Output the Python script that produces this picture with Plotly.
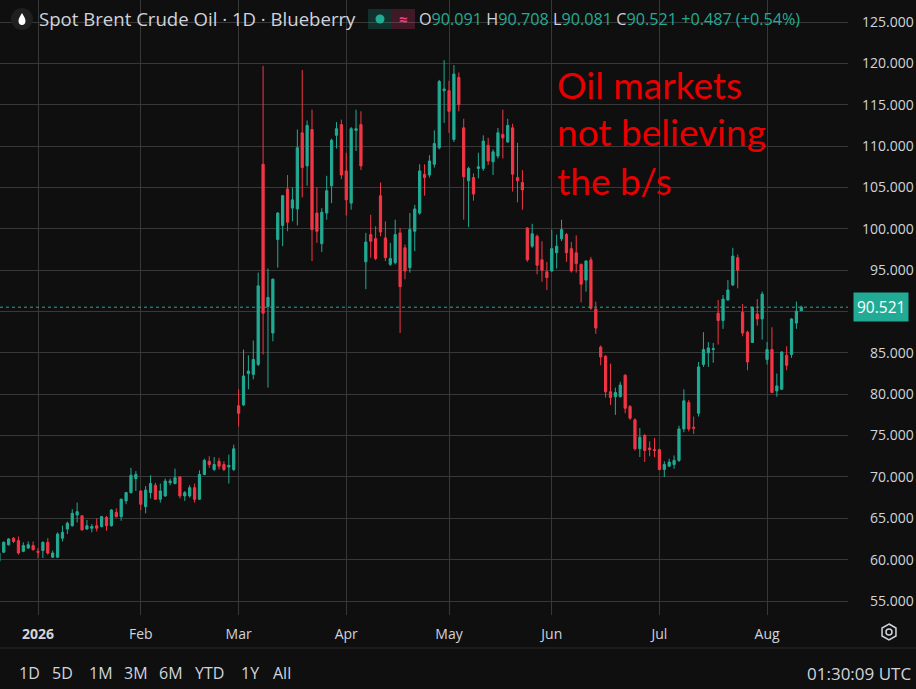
import pandas as pd
import plotly.graph_objects as go

# ---- data -------------------------------------------------------------
# trading days (weekdays, a few holidays dropped)
days = pd.bdate_range("2025-12-19", "2026-08-12")
holidays = pd.to_datetime(["2025-12-25", "2026-01-01", "2026-04-03", "2026-07-03"])
days = days[~days.isin(holidays)]
dates = [d.strftime("%Y-%m-%d") for d in days]

opens = [
    59.8, 60.9, 61.8, 62.6, 62.3, 61.0, 61.4, 61.7, 61.0, 61.1,
    62.1, 60.3, 60.3, 62.6, 63.7, 64.1, 65.4, 65.3, 63.7, 63.8,
    64.1, 64.0, 65.1, 64.1, 65.7, 65.2, 67.1, 68.1, 69.8, 68.3,
    66.4, 68.1, 69.0, 67.3, 67.7, 69.3, 69.2, 70.0, 67.7, 67.7,
    68.7, 67.3, 70.3, 71.9, 70.9, 71.9, 71.5, 71.2, 70.9, 78.6,
    78.7, 82.5, 82.4, 83.6, 107.8, 90.6, 87.4, 98.7, 100.4, 104.8,
    102.5, 102.4, 111.6, 107.6, 112.0, 101.9, 98.2, 101.9, 105.2, 111.3,
    112.6, 107.0, 103.1, 111.9, 112.6, 96.0, 99.3, 98.8, 104.0, 98.9,
    95.7, 95.9, 99.5, 97.7, 95.3, 99.7, 101.9, 106.6, 106.5, 107.8,
    109.8, 116.7, 116.7, 110.8, 118.3, 112.2, 105.8, 106.2, 107.3, 107.3,
    110.1, 108.1, 108.8, 111.4, 110.5, 112.2, 106.2, 105.6, 100.1, 97.9,
    99.1, 96.25, 94.8, 94.9, 97.1, 98.8, 99.3, 97.6, 97.1, 95.7,
    93.8, 96.25, 90.3, 85.7, 84.6, 80.3, 79.7, 79.7, 82.3, 78.5,
    76.9, 73.4, 75.0, 73.5, 73.3, 73.3, 70.9, 71.3, 71.5, 72.0,
    75.8, 79.0, 76.0, 77.7, 83.6, 85.0, 85.4, 89.8, 88.9, 91.4,
    93.2, 96.5, 89.9, 87.5, 86.25, 89.7, 89.1, 84.2, 85.4, 80.4,
    80.6, 84.7, 84.8, 88.6, 90.091,
]
highs = [
    60.9, 62.2, 62.6, 62.7, 62.8, 62.1, 62.2, 62.2, 61.4, 62.2,
    62.6, 61.1, 63.3, 64.1, 64.6, 66.1, 66.9, 65.4, 64.8, 64.3,
    65.0, 65.3, 65.3, 66.1, 66.2, 67.4, 68.2, 71.1, 70.7, 68.4,
    68.9, 70.2, 69.3, 69.2, 69.8, 69.8, 71.0, 70.1, 68.3, 69.0,
    69.2, 70.8, 72.2, 72.5, 72.4, 72.3, 71.9, 72.7, 73.9, 80.6,
    85.4, 84.7, 86.5, 94.7, 119.7, 95.2, 94.0, 102.0, 104.1, 106.5,
    105.0, 112.0, 119.2, 113.1, 114.4, 105.0, 102.5, 106.4, 110.9, 112.9,
    113.2, 109.2, 112.3, 114.4, 114.2, 99.5, 101.7, 100.3, 105.6, 100.9,
    98.3, 101.1, 100.1, 98.1, 101.9, 102.9, 107.8, 107.8, 108.9, 111.9,
    118.0, 120.4, 117.9, 119.8, 118.9, 113.3, 107.5, 106.7, 109.2, 111.3,
    111.0, 109.6, 112.2, 114.4, 113.3, 112.7, 110.4, 107.1, 100.2, 100.6,
    99.3, 98.5, 96.0, 99.9, 99.3, 101.1, 99.5, 98.4, 99.2, 95.8,
    96.2, 96.6, 91.2, 85.9, 84.7, 83.7, 80.8, 81.5, 82.4, 78.7,
    77.1, 75.9, 75.2, 74.3, 74.7, 73.4, 71.9, 72.2, 72.6, 76.2,
    80.6, 79.3, 77.3, 83.9, 87.5, 86.3, 86.2, 91.4, 92.0, 93.8,
    97.7, 96.9, 90.9, 87.7, 90.6, 91.5, 92.4, 86.3, 88.1, 82.5,
    85.2, 85.8, 89.2, 91.2, 90.708,
]
lows = [
    59.4, 60.8, 61.7, 62.0, 60.6, 60.9, 61.3, 61.1, 60.2, 60.2,
    60.6, 60.2, 60.2, 62.2, 63.1, 64.0, 64.5, 63.5, 63.6, 63.3,
    63.4, 63.9, 63.5, 64.0, 65.1, 64.7, 66.7, 68.0, 68.3, 66.0,
    65.6, 67.4, 67.3, 66.9, 67.6, 69.0, 69.1, 67.4, 67.1, 67.5,
    66.9, 67.2, 70.2, 71.1, 70.7, 70.9, 70.7, 69.2, 70.7, 76.1,
    78.6, 80.6, 81.8, 83.4, 84.8, 80.8, 86.4, 95.3, 97.9, 99.7,
    100.9, 100.4, 103.8, 105.2, 96.1, 98.3, 97.2, 101.1, 103.1, 109.7,
    106.0, 101.6, 102.3, 109.4, 107.1, 92.7, 96.5, 96.2, 99.1, 96.1,
    95.5, 95.7, 87.4, 93.9, 94.7, 97.3, 101.7, 104.0, 106.2, 107.4,
    109.6, 112.8, 111.6, 110.5, 114.2, 101.1, 100.2, 103.4, 106.1, 107.0,
    107.7, 106.5, 108.5, 108.5, 110.4, 104.5, 103.2, 102.3, 96.0, 97.7,
    94.5, 93.6, 92.6, 94.8, 95.2, 98.5, 96.0, 94.7, 94.7, 91.1,
    92.4, 90.2, 87.3, 83.5, 79.6, 78.7, 77.5, 79.6, 77.7, 76.9,
    73.2, 72.4, 71.8, 72.5, 72.4, 70.8, 70.0, 71.2, 71.0, 71.8,
    75.4, 75.5, 75.2, 77.3, 83.3, 83.3, 83.8, 86.0, 87.9, 91.3,
    93.1, 92.8, 87.0, 82.9, 86.2, 88.3, 86.6, 83.6, 80.2, 79.7,
    80.5, 82.9, 84.4, 87.9, 90.081,
]
closes = [
    60.8, 62.1, 62.5, 62.2, 60.8, 61.7, 61.8, 61.2, 60.9, 62.1,
    60.8, 60.8, 63.1, 63.3, 64.4, 65.6, 65.8, 63.6, 64.1, 64.0,
    63.8, 65.2, 64.1, 66.0, 65.2, 67.3, 68.1, 70.2, 70.3, 66.7,
    68.4, 69.2, 67.3, 68.3, 69.5, 69.5, 69.9, 67.7, 68.1, 68.7,
    67.3, 70.3, 72.0, 71.5, 71.5, 71.3, 70.9, 71.4, 73.4, 77.7,
    82.2, 82.8, 84.2, 93.1, 89.8, 91.7, 93.9, 101.9, 104.0, 100.8,
    103.5, 109.8, 107.4, 112.5, 99.9, 99.7, 102.0, 104.6, 110.7, 112.1,
    106.5, 103.5, 112.1, 112.1, 107.6, 98.4, 98.5, 96.4, 99.6, 96.5,
    96.4, 99.3, 93.0, 94.9, 99.9, 102.4, 107.0, 106.2, 108.2, 110.3,
    117.8, 116.9, 114.2, 118.7, 115.0, 106.3, 107.3, 104.2, 107.5, 110.6,
    108.2, 109.3, 111.6, 111.0, 112.5, 106.6, 105.8, 104.7, 96.25, 99.4,
    95.6, 95.0, 94.1, 97.6, 97.9, 99.9, 97.1, 94.9, 95.8, 93.3,
    96.1, 90.4, 88.0, 84.5, 80.3, 79.6, 80.2, 81.1, 78.3, 77.1,
    73.4, 74.8, 73.2, 73.3, 73.2, 70.9, 71.5, 71.8, 72.0, 75.8,
    79.2, 75.8, 75.9, 83.3, 85.4, 85.6, 85.5, 88.9, 91.5, 92.6,
    96.7, 95.0, 87.4, 83.9, 90.5, 89.1, 92.1, 85.4, 80.2, 81.0,
    85.1, 83.5, 89.1, 90.034, 90.521,
]

price_ticks = list(range(55, 130, 5))
month_labels = ["<b>2026</b>", "Feb", "Mar", "Apr", "May", "Jun", "Jul", "Aug"]
range_buttons = ["1D", "5D", "1M", "3M", "6M", "YTD", "1Y", "All"]
note_lines = ["Oil markets", "not believing", "the b/s"]
title_text = "Spot Brent Crude Oil · 1D · Blueberry"
clock_text = "01:30:09 UTC"

last = closes[-1]
prev = closes[-2]

# first bar of every month in 2026
month_starts = []
seen = set()
for d in dates:
    if d.startswith("2026") and d[:7] not in seen:
        seen.add(d[:7])
        month_starts.append(d)

# ---- look -------------------------------------------------------------
W, H = 916, 689
PR, PB = 848, 615          # plot right / bottom edge in px
BAR_PX = 4.893
FIRST_PX = 38               # pixel of first 2026 bar
BG = "#0f0f0f"
GRID = "#383838"
TXT = "#d1d4dc"
UP = "#22ab94"
DOWN = "#f23645"
FONT = "'Open Sans', 'Noto Sans', sans-serif"


def xp(px):
    return px / PR


def yp(py):
    return (PB - py) / PB


def path(points, close=True):
    # one command letter per segment, pixel coords -> paper coords
    s = []
    for cmd, pts in points:
        if cmd == "L":
            for a, b in pts:
                s.append(f"L{xp(a):.5f},{yp(b):.5f}")
        else:
            s.append(cmd + " ".join(f"{xp(a):.5f},{yp(b):.5f}" for a, b in pts))
    return " ".join(s) + (" Z" if close else "")


i0 = dates.index(month_starts[0])
x_lo = i0 - FIRST_PX / BAR_PX
x_hi = i0 + (PR - FIRST_PX) / BAR_PX
y_per_px = 70 / (601 - 22)
y_hi = 125 + 22 * y_per_px
y_lo = 55 - (PB - 601) * y_per_px

fig = go.Figure()
fig.add_trace(go.Candlestick(
    x=dates, open=opens, high=highs, low=lows, close=closes,
    increasing=dict(line=dict(color=UP, width=1), fillcolor=UP),
    decreasing=dict(line=dict(color=DOWN, width=1), fillcolor=DOWN),
    hoverinfo="skip", showlegend=False,
))

shapes = []
# last price dotted line
shapes.append(dict(type="line", xref="paper", yref="y", x0=0, x1=1, y0=last, y1=last,
                   line=dict(color=UP, width=1, dash="dot")))
# separator above bottom toolbar
shapes.append(dict(type="line", xref="paper", yref="paper", x0=0, x1=xp(W),
                   y0=yp(648), y1=yp(648), line=dict(color="#2b2b2b", width=1)))
# symbol icon (circle + drop)
shapes.append(dict(type="circle", xref="paper", yref="paper",
                   x0=xp(11), x1=xp(33), y0=yp(8), y1=yp(30),
                   fillcolor="#1f1f1f", line=dict(width=0)))
shapes.append(dict(type="path", xref="paper", yref="paper", fillcolor="white",
                   line=dict(width=0),
                   path=path([("M", [(22, 13)]),
                              ("C", [(20.5, 16), (18.5, 18), (18.5, 21)]),
                              ("C", [(18.5, 23.5), (20, 25), (22, 25)]),
                              ("C", [(24, 25), (25.5, 23.5), (25.5, 21)]),
                              ("C", [(25.5, 18), (23.5, 16), (22, 13)])])))
# status pill
shapes.append(dict(type="rect", xref="paper", yref="paper", x0=xp(368), x1=xp(392),
                   y0=yp(9), y1=yp(29), fillcolor="rgba(34,171,148,0.22)", line=dict(width=0)))
shapes.append(dict(type="rect", xref="paper", yref="paper", x0=xp(392), x1=xp(415),
                   y0=yp(9), y1=yp(29), fillcolor="rgba(236,64,122,0.22)", line=dict(width=0)))
shapes.append(dict(type="circle", xref="paper", yref="paper", x0=xp(375.5), x1=xp(384.5),
                   y0=yp(14.5), y1=yp(23.5), fillcolor=UP, line=dict(width=0)))
# settings icon (hexagon + circle)
hx, hy, hr = 889, 632, 8
hexpts = [(hx, hy - hr), (hx + 0.87 * hr, hy - hr / 2), (hx + 0.87 * hr, hy + hr / 2),
          (hx, hy + hr), (hx - 0.87 * hr, hy + hr / 2), (hx - 0.87 * hr, hy - hr / 2)]
shapes.append(dict(type="path", xref="paper", yref="paper",
                   path=path([("M", hexpts[:1]), ("L", hexpts[1:])]),
                   line=dict(color=TXT, width=1.5)))
shapes.append(dict(type="circle", xref="paper", yref="paper", x0=xp(hx - 3), x1=xp(hx + 3),
                   y0=yp(hy - 3), y1=yp(hy + 3), line=dict(color=TXT, width=1.5)))

ann = []
ann.append(dict(xref="paper", yref="paper", x=xp(37), y=yp(19), xanchor="left", yanchor="middle",
                text=title_text, showarrow=False, font=dict(size=18.6, color=TXT, family=FONT)))
ann.append(dict(xref="paper", yref="paper", x=xp(403.5), y=yp(19), xanchor="center", yanchor="middle",
                text="<b>≈</b>", showarrow=False, font=dict(size=15, color="#ec407a", family=FONT)))
chg = last - prev
ohlc = (f"O<span style='color:{UP}'>{opens[-1]:.3f}</span> "
        f"H<span style='color:{UP}'>{highs[-1]:.3f}</span> "
        f"L<span style='color:{UP}'>{lows[-1]:.3f}</span> "
        f"C<span style='color:{UP}'>{last:.3f} {chg:+.3f} ({chg / prev * 100:+.2f}%)</span>")
ann.append(dict(xref="paper", yref="paper", x=xp(417), y=yp(19), xanchor="left", yanchor="middle",
                text=ohlc, showarrow=False, font=dict(size=16.2, color=TXT, family=FONT)))
# last price tag on the axis
ann.append(dict(xref="paper", yref="y", x=1, y=last, xanchor="left", yanchor="middle", xshift=5,
                text=f"{last:.3f}", showarrow=False, bgcolor=UP, borderpad=3,
                font=dict(size=15.5, color="white", family=FONT)))
# red note
for k, line in enumerate(note_lines):
    ann.append(dict(xref="paper", yref="paper", x=xp(555), y=yp(84 + 48 * k),
                    xanchor="left", yanchor="middle", text=line, showarrow=False,
                    font=dict(size=37, color="#e80000", family="Lato, sans-serif")))
# bottom toolbar
btn_px = [17, 50, 87, 122, 157, 193, 239, 271]
for b, bx in zip(range_buttons, btn_px):
    ann.append(dict(xref="paper", yref="paper", x=xp(bx), y=yp(673), xanchor="left", yanchor="middle",
                    text=b, showarrow=False, font=dict(size=16, color=TXT, family=FONT)))
ann.append(dict(xref="paper", yref="paper", x=xp(913), y=yp(673), xanchor="right", yanchor="middle",
                text=clock_text, showarrow=False, font=dict(size=17, color=TXT, family=FONT)))

# the last price tag hides the 90.000 label in the original
tick_text = ["" if v == 90 else f"{v:.3f}".rjust(7, "\u2007") for v in price_ticks]

fig.update_layout(
    width=W, height=H,
    margin=dict(l=0, r=W - PR, t=0, b=H - PB),
    paper_bgcolor=BG, plot_bgcolor=BG,
    boxgap=0.35,
    shapes=shapes, annotations=ann,
    font=dict(family=FONT, color=TXT, size=13),
    xaxis=dict(type="category", range=[x_lo, x_hi], rangeslider=dict(visible=False),
               tickmode="array", tickvals=month_starts, ticktext=month_labels,
               showgrid=True, gridcolor=GRID, gridwidth=1, zeroline=False, showline=False,
               ticks="", ticklabelstandoff=9, tickfont=dict(size=14, color=TXT)),
    yaxis=dict(side="right", range=[y_lo, y_hi], tickmode="array", tickvals=price_ticks,
               ticktext=tick_text,
               showgrid=True, gridcolor=GRID, gridwidth=1, zeroline=False, showline=False,
               ticks="", ticklabelstandoff=13, tickfont=dict(size=14, color=TXT)),
)

fig.write_html("out.html", config={"displayModeBar": False},
               post_script="document.body.style.margin='0';")
